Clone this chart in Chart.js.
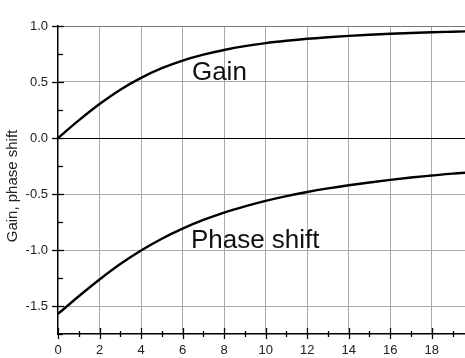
<!DOCTYPE html>
<html>
<head>
<meta charset="utf-8">
<script src="https://cdn.jsdelivr.net/npm/chart.js@4/dist/chart.umd.min.js"></script>
<style>
  body { margin: 0; background: #fff; }
</style>
</head>
<body>
<canvas id="lineChart" width="465" height="358"></canvas>
<script>
// values
var xValues = [0, 1, 2, 3, 4, 5, 6, 7, 8, 9, 10, 11, 12, 13, 14, 15, 16, 17, 18, 19, 20];
var gain = [0, 0.157, 0.303, 0.431, 0.537, 0.623, 0.691, 0.744, 0.786, 0.820, 0.847,
  0.868, 0.886, 0.900, 0.912, 0.922, 0.931, 0.938, 0.944, 0.949, 0.954];
var phaseShift = [-1.571, -1.413, -1.263, -1.125, -1.004, -0.899, -0.809, -0.732, -0.666, -0.610, -0.561,
  -0.519, -0.482, -0.450, -0.422, -0.397, -0.374, -0.353, -0.335, -0.318, -0.305];
var curveLabels = ["Gain", "Phase shift"];
var xTickLabels = [0, 2, 4, 6, 8, 10, 12, 14, 16, 18];
var yTickLabels = [-1.5, -1.0, -0.5, 0.0, 0.5, 1.0];
var axisTitle = "Gain, phase shift";

// where the curve names sit (data units)
var labelSpots = [{x: 6.45, y: 0.52}, {x: 6.4, y: -0.98}];

function pts(ys) {
  return xValues.map(function(x, i) { return {x: x, y: ys[i]}; });
}
function near(a, b) { return Math.abs(a - b) < 1e-6; }
function isMajorY(v) {
  return yTickLabels.some(function(t) { return near(t, v); });
}

var extras = {
  id: 'extras',
  afterDraw: function(chart) {
    var c = chart.ctx, xs = chart.scales.x, ys = chart.scales.y, a = chart.chartArea;
    c.save();
    c.strokeStyle = '#000';
    c.lineWidth = 1.3;
    // x tick marks
    for (var v = 0; v <= 19; v++) {
      var px = Math.round(xs.getPixelForValue(v)) + 0.5;
      var major = v % 2 === 0;
      c.beginPath();
      c.moveTo(px, a.bottom - (major ? 6 : 3));
      c.lineTo(px, a.bottom + (major ? 5 : 3));
      c.stroke();
    }
    // y tick marks
    for (var k = 0; k <= 11; k++) {
      var yv = -1.75 + k * 0.25;
      var py = Math.round(ys.getPixelForValue(yv)) + 0.5;
      var maj = isMajorY(yv);
      c.beginPath();
      c.moveTo(a.left - (maj ? 6 : 0), py);
      c.lineTo(a.left + (maj ? 6 : 5), py);
      c.stroke();
    }
    // curve names
    c.fillStyle = '#111';
    c.font = '26px "Liberation Sans", Arial, sans-serif';
    c.textAlign = 'left';
    c.textBaseline = 'alphabetic';
    curveLabels.forEach(function(t, i) {
      c.fillText(t, xs.getPixelForValue(labelSpots[i].x), ys.getPixelForValue(labelSpots[i].y));
    });
    // axis title
    c.font = '15px "Liberation Sans", Arial, sans-serif';
    c.fillStyle = '#222';
    c.translate(17, 186);
    c.rotate(-Math.PI / 2);
    c.textAlign = 'center';
    c.fillText(axisTitle, 0, 0);
    c.restore();
  }
};

var ctxL = document.getElementById("lineChart").getContext("2d");
var myLineChart = new Chart(ctxL, {
  type: 'line',
  data: {
    datasets: [{
      label: curveLabels[0],
      data: pts(gain),
      borderColor: '#000',
      borderWidth: 2.4,
      pointRadius: 0,
      cubicInterpolationMode: 'monotone'
    }, {
      label: curveLabels[1],
      data: pts(phaseShift),
      borderColor: '#000',
      borderWidth: 2.4,
      pointRadius: 0,
      cubicInterpolationMode: 'monotone'
    }]
  },
  options: {
    responsive: false,
    animation: false,
    layout: { padding: { top: 26, right: 0, left: 0, bottom: 0 } },
    plugins: { legend: { display: false }, tooltip: { enabled: false } },
    scales: {
      x: {
        type: 'linear',
        min: 0,
        max: 19.6,
        afterFit: function(s) { s.height = 24; },
        border: { color: '#000', width: 1.5 },
        grid: {
          drawTicks: false,
          color: function(ctx) {
            var v = ctx.tick.value;
            return (v % 2 === 0 && v !== 0) ? '#aaa' : 'rgba(0,0,0,0)';
          }
        },
        ticks: {
          stepSize: 1,
          includeBounds: false,
          autoSkip: false,
          maxRotation: 0,
          padding: 9,
          color: '#222',
          font: { size: 13, family: '"Liberation Sans", Arial, sans-serif' },
          callback: function(v) { return xTickLabels.indexOf(v) >= 0 ? String(v) : ''; }
        }
      },
      y: {
        min: -1.75,
        max: 1,
        afterFit: function(s) { s.width = 58; },
        border: { color: '#000', width: 1.5 },
        grid: {
          drawTicks: false,
          color: function(ctx) {
            var v = ctx.tick.value;
            if (near(v, 0)) return '#000';
            if (near(v, 1)) return '#777';
            return isMajorY(v) ? '#aaa' : 'rgba(0,0,0,0)';
          }
        },
        ticks: {
          stepSize: 0.25,
          autoSkip: false,
          padding: 10,
          color: '#222',
          font: { size: 13, family: '"Liberation Sans", Arial, sans-serif' },
          callback: function(v) { return isMajorY(v) ? v.toFixed(1) : ''; }
        }
      }
    }
  },
  plugins: [extras]
});
</script>
</body>
</html>
